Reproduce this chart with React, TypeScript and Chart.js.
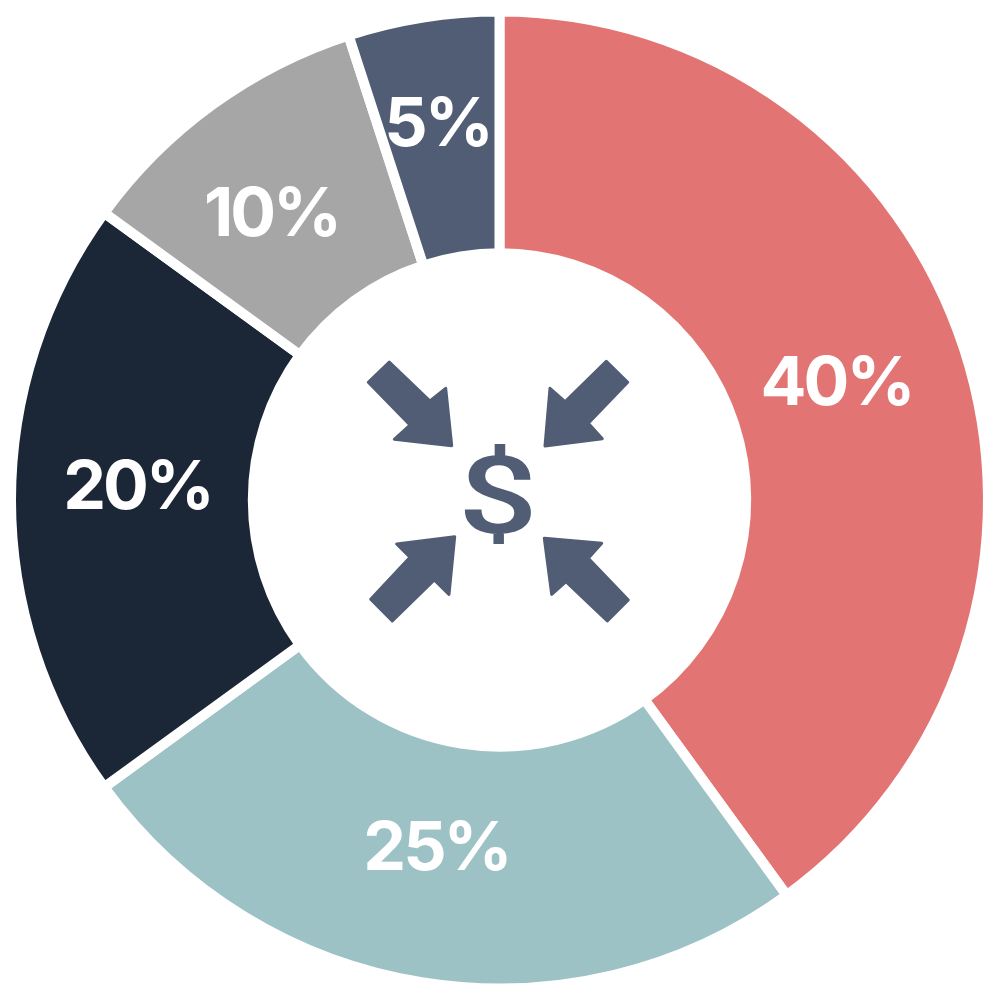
import { useEffect, useRef } from "react";
import { Chart, registerables } from "chart.js";

Chart.register(...registerables);

const shares = [40, 25, 20, 10, 5];
const sliceColors = ["#E27573", "#9DC2C5", "#1B2736", "#A6A6A6", "#505D74"];
const labels = shares.map((s) => `${s}%`);

const ICON_COLOR = "#505D74";
const LABEL_FONT = "700 68px Inter";

// hand placed in the original, offsets from the ring centre
const labelOffsets = [
  [337, -115],
  [-63, 350],
  [-362, -11],
  [-228, -284],
  [-62, -374],
];

const arrows = [
  [[389.3, 362], [368.3, 382.3], [410, 425], [394.3, 439.3], [451.7, 445.7], [445.7, 388.3], [430, 401]],
  [[606.3, 361.3], [627.7, 382.3], [588.3, 423.3], [602.3, 438.7], [545, 446], [550, 388.3], [565, 401.7]],
  [[370.7, 599.3], [392.3, 621], [434.3, 580], [449, 594.3], [454.7, 536.7], [396.7, 544], [410, 557.3]],
  [[628.3, 600], [607.3, 621], [566, 581.7], [551.7, 594.3], [544.3, 538.3], [601.7, 543.3], [588.3, 558.3]],
];

const centerIcon = {
  id: "centerIcon",
  afterDatasetsDraw(chart: any) {
    const { ctx } = chart;
    ctx.save();
    ctx.fillStyle = ICON_COLOR;
    ctx.strokeStyle = ICON_COLOR;
    ctx.lineWidth = 3;
    ctx.lineJoin = "round";
    for (const pts of arrows) {
      ctx.beginPath();
      pts.forEach(([x, y], i) => (i ? ctx.lineTo(x, y) : ctx.moveTo(x, y)));
      ctx.closePath();
      ctx.fill();
      ctx.stroke();
    }
    // Roboto's dollar has no bar through the S; widened to the icon's proportions
    ctx.translate(498, 506);
    ctx.scale(1.3, 1);
    ctx.font = "500 108px Roboto";
    ctx.textAlign = "center";
    ctx.textBaseline = "middle";
    ctx.fillText("$", 0, 0);
    ctx.restore();
  },
};

const sliceLabels = {
  id: "sliceLabels",
  afterDatasetsDraw(chart: any) {
    const { ctx } = chart;
    const arc = chart.getDatasetMeta(0).data[0];
    ctx.save();
    ctx.fillStyle = "#ffffff";
    ctx.font = LABEL_FONT;
    ctx.letterSpacing = "-3px";
    ctx.textAlign = "center";
    ctx.textBaseline = "middle";
    labels.forEach((text, i) => {
      const [dx, dy] = labelOffsets[i];
      ctx.fillText(text, arc.x + dx, arc.y + dy);
    });
    ctx.restore();
  },
};

export default function App() {
  const canvasRef = useRef<HTMLCanvasElement>(null);

  useEffect(() => {
    if (!canvasRef.current) return;
    document.body.style.margin = "0";

    const chart = new Chart(canvasRef.current, {
      type: "doughnut",
      data: {
        labels,
        datasets: [
          {
            data: shares,
            backgroundColor: sliceColors,
            borderColor: "#ffffff",
            borderWidth: 10,
          },
        ],
      },
      options: {
        animation: false,
        responsive: false,
        cutout: "50.5%",
        layout: { padding: { left: 6, right: 7, top: 6.5, bottom: 6.5 } },
        plugins: {
          legend: { display: false },
          tooltip: { enabled: false },
        },
      },
      plugins: [sliceLabels, centerIcon],
    });

    return () => chart.destroy();
  }, []);

  return (
    <div style={{ width: 1000, height: 1000, background: "#fff" }}>
      <canvas ref={canvasRef} width={1000} height={1000} style={{ display: "block" }} />
    </div>
  );
}
